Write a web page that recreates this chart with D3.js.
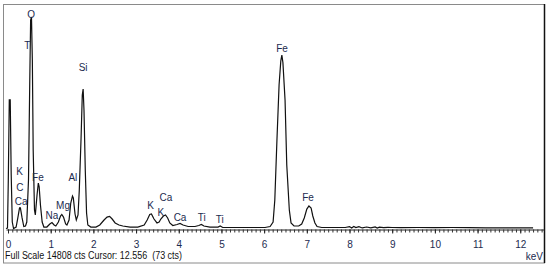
<!DOCTYPE html>
<html>
<head>
<meta charset="utf-8">
<script src="https://cdnjs.cloudflare.com/ajax/libs/d3/7.8.5/d3.min.js"></script>
<style>
  body { margin: 0; background: #fff; font-family: Arial, "Liberation Sans", sans-serif; }
  svg { display: block }
  .lbl { font-size: 10px; fill: #1c2b4f; }
  .tick text { font-size: 10px; fill: #1c2b4f; font-family: Arial, "Liberation Sans", sans-serif; }
</style>
</head>
<body>
<div id="chart"></div>
<script>
// spectrum (keV, counts)
const energy = [-0.047, -0.012, 0.007, 0.030, 0.052, 0.075, 0.10, 0.13, 0.19, 0.23, 0.27, 0.29, 0.33, 0.37, 0.41, 0.44,
  0.48, 0.51, 0.53, 0.55, 0.57, 0.59, 0.62, 0.64, 0.68, 0.71, 0.73, 0.76, 0.80, 0.84, 0.91, 0.98, 1.03, 1.08, 1.12,
  1.18, 1.23, 1.26, 1.30, 1.35, 1.38, 1.43, 1.47, 1.51, 1.53, 1.57, 1.60, 1.64, 1.67, 1.71, 1.74, 1.76, 1.78, 1.81,
  1.84, 1.87, 1.94, 2.06, 2.15, 2.25, 2.32, 2.38, 2.44, 2.51, 2.60, 2.69, 2.86, 3.04, 3.19, 3.26, 3.32, 3.36, 3.42,
  3.49, 3.54, 3.58, 3.64, 3.69, 3.74, 3.79, 3.86, 3.96, 4.03, 4.10, 4.22, 4.38, 4.47, 4.53, 4.59, 4.73, 4.92, 4.97,
  5.03, 5.32, 5.67, 6.02, 6.14, 6.21, 6.25, 6.30, 6.35, 6.39, 6.415, 6.44, 6.49, 6.53, 6.59, 6.63, 6.70, 6.81, 6.88,
  6.94, 7.00, 7.05, 7.10, 7.14, 7.19, 7.24, 7.35, 7.60, 7.90, 8.00, 8.05, 8.10, 8.15, 8.22, 8.30, 8.40, 8.50, 8.60,
  8.65, 8.70, 8.80, 8.90, 9.00, 9.20, 9.60, 10.0, 10.4, 10.8, 11.2, 11.6, 12.0, 12.3, 12.556]
const counts = [33, 66, 3240, 8530, 8530, 3570, 460, 33, 130, 730, 1390, 1390, 730, 165, 200, 460,
  3240, 9850, 13815, 14013, 11170, 5220, 1256, 925, 2250, 3040, 2780, 1590, 460, 130, 130, 330, 430, 265, 200,
  460, 860, 960, 790, 330, 265, 595, 1720, 2180, 2050, 990, 595, 925, 2580, 5880, 8860, 9250, 7870, 3900,
  1060, 265, 130, 130, 265, 595, 790, 830, 660, 400, 265, 200, 130, 130, 265, 595, 960, 990, 660,
  400, 460, 660, 860, 925, 730, 400, 230, 300, 365, 265, 165, 165, 230, 300, 200, 130, 130, 200,
  100, 100, 100, 100, 165, 460, 1920, 5880, 9520, 11100, 11500, 11000, 8530, 4230, 1256, 400, 200, 200, 330,
  730, 1320, 1520, 1390, 860, 400, 165, 100, 100, 100, 160, 60, 170, 90, 150, 70, 130, 80, 140,
  60, 120, 90, 110, 100, 90, 100, 90, 100, 90, 80, 80, 75, 73]

// element markers: name, energy (keV), label height (counts)
const elemNames = ['O', 'T', 'K', 'C', 'Ca', 'Fe', 'Na', 'Mg', 'Al', 'Si', 'K', 'Ca', 'K', 'Ca', 'Ti', 'Ti', 'Fe', 'Fe']
const elemKeV = [0.54, 0.45, 0.27, 0.28, 0.31, 0.70, 1.03, 1.29, 1.52, 1.76, 3.34, 3.70, 3.58, 4.03, 4.54, 4.96, 6.42, 7.03]
const elemCts = [14212, 12160, 3830, 2776, 1785, 3437, 860, 1586, 3437, 10708, 1586, 2050, 1058, 793, 793, 661, 11964, 2050]

const majorTicks = [0, 1, 2, 3, 4, 5, 6, 7, 8, 9, 10, 11, 12]
const fullScale = 14808
const cursorKeV = 12.556
const cursorCts = 73

const w = 550, h = 268

const svg = d3.select('#chart').append('svg').attr('width', w).attr('height', h)

const xScale = d3.scaleLinear().domain([-0.047, cursorKeV]).range([6, 544])
const yScale = d3.scaleLinear().domain([0, fullScale]).range([229, 5])

// frame
svg.append('rect').attr('x', 3.5).attr('y', 4.5).attr('width', 541).attr('height', 258.5)
   .attr('fill', 'none').attr('stroke', '#8a8a8a')
svg.append('line').attr('x1', 544.5).attr('x2', 544.5).attr('y1', 4).attr('y2', 263)
   .attr('stroke', '#111').attr('stroke-width', 1.5)

const minor = d3.range(0, 125.6).map(d => d / 10)
svg.append('g').attr('transform', 'translate(0,229.5)')
   .call(d3.axisBottom(xScale).tickValues(minor).tickSize(3).tickSizeOuter(0).tickFormat(''))
   .call(g => g.selectAll('line').attr('stroke', '#333'))
   .call(g => g.select('.domain').attr('stroke', '#222'))

svg.append('g').attr('id', 'x-axis').attr('transform', 'translate(0,229.5)')
   .call(d3.axisBottom(xScale).tickValues(majorTicks).tickSize(4).tickSizeOuter(0).tickPadding(7))
   .call(g => g.select('.domain').remove())
   .call(g => g.selectAll('line').attr('stroke', '#222'))

const pts = energy.map((e, i) => [e, counts[i]])
svg.append('path').datum(pts)
   .attr('d', d3.line().x(d => xScale(d[0])).y(d => yScale(d[1])))
   .attr('fill', 'none').attr('stroke', '#111').attr('stroke-width', 1.2)

svg.selectAll('.lbl').data(elemNames).enter().append('text')
   .attr('class', 'lbl')
   .attr('x', (d, i) => xScale(elemKeV[i]))
   .attr('y', (d, i) => yScale(elemCts[i]))
   .attr('dy', '0.35em')
   .attr('text-anchor', 'middle')
   .text(d => d)

svg.append('text').attr('x', 5).attr('y', 259).attr('font-size', 10).attr('fill', '#111')
   .attr('textLength', 177).attr('lengthAdjust', 'spacingAndGlyphs')
   .style('white-space', 'pre')
   .text('Full Scale ' + fullScale + ' cts Cursor: ' + cursorKeV + '  (' + cursorCts + ' cts)')

svg.append('text').attr('x', 543).attr('y', 260).attr('font-size', 10).attr('fill', '#1c2b4f')
   .attr('text-anchor', 'end').text('keV')
</script>
</body>
</html>
